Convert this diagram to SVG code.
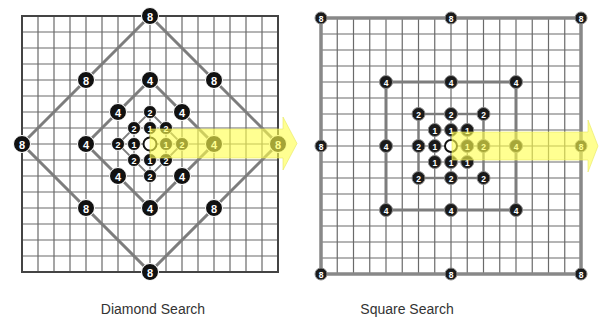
<svg xmlns="http://www.w3.org/2000/svg" width="599" height="320" viewBox="0 0 599 320">
<style>
.grid{stroke:#6a6a6a;stroke-width:1.2;fill:none}
.frame{stroke:#444;stroke-width:2;fill:none}
.conn{stroke:#7d7d7d;stroke-width:3;fill:none;stroke-linejoin:round}
.conn2{stroke:#7d7d7d;stroke-width:1.8;fill:none}
.big circle{fill:#111;stroke:#fff;stroke-width:1}
.sm circle{fill:#111;stroke:#fff;stroke-width:0.8}
.rn circle{fill:#1a1a1a;stroke:#888;stroke-width:1}
.n text{fill:#fff;font-family:"Liberation Sans",Arial,sans-serif;font-weight:bold;text-anchor:middle;dominant-baseline:central}
.big text{font-size:11px}
.sm text{font-size:9px}
.rn text{font-size:8.5px}
.ctr{fill:#fff;stroke:#111;stroke-width:2}
.arrow{fill:#ffff4d;fill-opacity:0.62;stroke:#e8e860;stroke-width:1;stroke-opacity:0.6}
.label{font-family:"Liberation Sans",Arial,sans-serif;font-size:14px;fill:#333;text-anchor:middle}
</style>
<rect width="599" height="320" fill="#fff"/>
<!-- Left grid -->
<g id="grid-left">
<path class="grid" d="M38 16V272M54 16V272M70 16V272M86 16V272M102 16V272M118 16V272M134 16V272M150 16V272M166 16V272M182 16V272M198 16V272M214 16V272M230 16V272M246 16V272M262 16V272M22 32H278M22 48H278M22 64H278M22 80H278M22 96H278M22 112H278M22 128H278M22 144H278M22 160H278M22 176H278M22 192H278M22 208H278M22 224H278M22 240H278M22 256H278"/>
<rect class="frame" x="22" y="16" width="256" height="256"/>
</g>
<!-- Right grid -->
<g id="grid-right">
<path class="grid" d="M337.25 18V274M353.5 18V274M369.75 18V274M386 18V274M402.25 18V274M418.5 18V274M434.75 18V274M451 18V274M467.25 18V274M483.5 18V274M499.75 18V274M516 18V274M532.25 18V274M548.5 18V274M564.75 18V274M321 34H581M321 50H581M321 66H581M321 82H581M321 98H581M321 114H581M321 130H581M321 146H581M321 162H581M321 178H581M321 194H581M321 210H581M321 226H581M321 242H581M321 258H581"/>
</g>
<g id="connectors">
<path class="conn" d="M150 16L278 144L150 272L22 144Z"/>
<path class="conn" d="M150 80L214 144L150 208L86 144Z"/>
<path class="conn2" d="M150 112L182 144L150 176L118 144Z"/>
<rect class="conn" x="321" y="18" width="260" height="256" style="stroke:#888;stroke-width:3.5"/>
<rect class="conn" x="386" y="82" width="130" height="128"/>
<rect class="conn2" x="418.5" y="114" width="65" height="64" style="stroke-width:2.4"/>
</g>
<!-- Left nodes -->
<g id="left-nodes">
<g id="L8-t" class="n big"><circle cx="150" cy="16" r="8.5"/><text x="150" y="16.5">8</text></g>
<g id="L8-r" class="n big"><circle cx="278" cy="144" r="8.5"/><text x="278" y="144.5">8</text></g>
<g id="L8-b" class="n big"><circle cx="150" cy="272" r="8.5"/><text x="150" y="272.5">8</text></g>
<g id="L8-l" class="n big"><circle cx="22" cy="144" r="8.5"/><text x="22" y="144.5">8</text></g>
<g id="L8-tl" class="n big"><circle cx="86" cy="80" r="8.5"/><text x="86" y="80.5">8</text></g>
<g id="L8-tr" class="n big"><circle cx="214" cy="80" r="8.5"/><text x="214" y="80.5">8</text></g>
<g id="L8-bl" class="n big"><circle cx="86" cy="208" r="8.5"/><text x="86" y="208.5">8</text></g>
<g id="L8-br" class="n big"><circle cx="214" cy="208" r="8.5"/><text x="214" y="208.5">8</text></g>
<g id="L4-t" class="n big"><circle cx="150" cy="80" r="8.5"/><text x="150" y="80.5">4</text></g>
<g id="L4-r" class="n big"><circle cx="214" cy="144" r="8.5"/><text x="214" y="144.5">4</text></g>
<g id="L4-b" class="n big"><circle cx="150" cy="208" r="8.5"/><text x="150" y="208.5">4</text></g>
<g id="L4-l" class="n big"><circle cx="86" cy="144" r="8.5"/><text x="86" y="144.5">4</text></g>
<g id="L4-tl" class="n big"><circle cx="118" cy="112" r="8.5"/><text x="118" y="112.5">4</text></g>
<g id="L4-tr" class="n big"><circle cx="182" cy="112" r="8.5"/><text x="182" y="112.5">4</text></g>
<g id="L4-bl" class="n big"><circle cx="118" cy="176" r="8.5"/><text x="118" y="176.5">4</text></g>
<g id="L4-br" class="n big"><circle cx="182" cy="176" r="8.5"/><text x="182" y="176.5">4</text></g>
<g id="L2-t" class="n sm"><circle cx="150" cy="112" r="6.5"/><text x="150" y="112.5">2</text></g>
<g id="L2-r" class="n sm"><circle cx="182" cy="144" r="6.5"/><text x="182" y="144.5">2</text></g>
<g id="L2-b" class="n sm"><circle cx="150" cy="176" r="6.5"/><text x="150" y="176.5">2</text></g>
<g id="L2-l" class="n sm"><circle cx="118" cy="144" r="6.5"/><text x="118" y="144.5">2</text></g>
<g id="L2-tl" class="n sm"><circle cx="134" cy="128" r="6.5"/><text x="134" y="128.5">2</text></g>
<g id="L2-tr" class="n sm"><circle cx="166" cy="128" r="6.5"/><text x="166" y="128.5">2</text></g>
<g id="L2-bl" class="n sm"><circle cx="134" cy="160" r="6.5"/><text x="134" y="160.5">2</text></g>
<g id="L2-br" class="n sm"><circle cx="166" cy="160" r="6.5"/><text x="166" y="160.5">2</text></g>
<g id="L1-t" class="n sm"><circle cx="150" cy="128" r="6.5"/><text x="150" y="128.5">1</text></g>
<g id="L1-r" class="n sm"><circle cx="166" cy="144" r="6.5"/><text x="166" y="144.5">1</text></g>
<g id="L1-b" class="n sm"><circle cx="150" cy="160" r="6.5"/><text x="150" y="160.5">1</text></g>
<g id="L1-l" class="n sm"><circle cx="134" cy="144" r="6.5"/><text x="134" y="144.5">1</text></g>
<g id="L0"><circle class="ctr" cx="150" cy="144" r="6.5"/></g>
</g>
<!-- Right nodes -->
<g id="right-nodes">
<g id="R8-tl" class="n rn"><circle cx="321" cy="18" r="6"/><text x="321" y="18.5">8</text></g>
<g id="R8-t" class="n rn"><circle cx="451" cy="18" r="6"/><text x="451" y="18.5">8</text></g>
<g id="R8-tr" class="n rn"><circle cx="581" cy="18" r="6"/><text x="581" y="18.5">8</text></g>
<g id="R8-l" class="n rn"><circle cx="321" cy="146" r="6"/><text x="321" y="146.5">8</text></g>
<g id="R8-r" class="n rn"><circle cx="581" cy="146" r="6"/><text x="581" y="146.5">8</text></g>
<g id="R8-bl" class="n rn"><circle cx="321" cy="274" r="6"/><text x="321" y="274.5">8</text></g>
<g id="R8-b" class="n rn"><circle cx="451" cy="274" r="6"/><text x="451" y="274.5">8</text></g>
<g id="R8-br" class="n rn"><circle cx="581" cy="274" r="6"/><text x="581" y="274.5">8</text></g>
<g id="R4-tl" class="n rn"><circle cx="386" cy="82" r="6.5"/><text x="386" y="82.5">4</text></g>
<g id="R4-t" class="n rn"><circle cx="451" cy="82" r="6.5"/><text x="451" y="82.5">4</text></g>
<g id="R4-tr" class="n rn"><circle cx="516" cy="82" r="6.5"/><text x="516" y="82.5">4</text></g>
<g id="R4-l" class="n rn"><circle cx="386" cy="146" r="6.5"/><text x="386" y="146.5">4</text></g>
<g id="R4-r" class="n rn"><circle cx="516" cy="146" r="6.5"/><text x="516" y="146.5">4</text></g>
<g id="R4-bl" class="n rn"><circle cx="386" cy="210" r="6.5"/><text x="386" y="210.5">4</text></g>
<g id="R4-b" class="n rn"><circle cx="451" cy="210" r="6.5"/><text x="451" y="210.5">4</text></g>
<g id="R4-br" class="n rn"><circle cx="516" cy="210" r="6.5"/><text x="516" y="210.5">4</text></g>
<g id="R2-tl" class="n rn"><circle cx="418.5" cy="114" r="6.5"/><text x="418.5" y="114.5">2</text></g>
<g id="R2-t" class="n rn"><circle cx="451" cy="114" r="6.5"/><text x="451" y="114.5">2</text></g>
<g id="R2-tr" class="n rn"><circle cx="483.5" cy="114" r="6.5"/><text x="483.5" y="114.5">2</text></g>
<g id="R2-l" class="n rn"><circle cx="418.5" cy="146" r="6.5"/><text x="418.5" y="146.5">2</text></g>
<g id="R2-r" class="n rn"><circle cx="483.5" cy="146" r="6.5"/><text x="483.5" y="146.5">2</text></g>
<g id="R2-bl" class="n rn"><circle cx="418.5" cy="178" r="6.5"/><text x="418.5" y="178.5">2</text></g>
<g id="R2-b" class="n rn"><circle cx="451" cy="178" r="6.5"/><text x="451" y="178.5">2</text></g>
<g id="R2-br" class="n rn"><circle cx="483.5" cy="178" r="6.5"/><text x="483.5" y="178.5">2</text></g>
<g id="R1-tl" class="n rn"><circle cx="434.75" cy="130" r="6.5"/><text x="434.75" y="130.5">1</text></g>
<g id="R1-t" class="n rn"><circle cx="451" cy="130" r="6.5"/><text x="451" y="130.5">1</text></g>
<g id="R1-tr" class="n rn"><circle cx="467.25" cy="130" r="6.5"/><text x="467.25" y="130.5">1</text></g>
<g id="R1-l" class="n rn"><circle cx="434.75" cy="146" r="6.5"/><text x="434.75" y="146.5">1</text></g>
<g id="R1-r" class="n rn"><circle cx="467.25" cy="146" r="6.5"/><text x="467.25" y="146.5">1</text></g>
<g id="R1-bl" class="n rn"><circle cx="434.75" cy="162" r="6.5"/><text x="434.75" y="162.5">1</text></g>
<g id="R1-b" class="n rn"><circle cx="451" cy="162" r="6.5"/><text x="451" y="162.5">1</text></g>
<g id="R1-br" class="n rn"><circle cx="467.25" cy="162" r="6.5"/><text x="467.25" y="162.5">1</text></g>
<g id="R0"><circle class="ctr" cx="451" cy="146" r="6"/></g>
</g>
<!-- Yellow arrows -->
<polygon id="arrow-left" class="arrow" points="150,129 283,129 283,117 297,143.5 283,170 283,158 150,158"/>
<polygon id="arrow-right" class="arrow" points="452,132 588,132 588,120 598,146 588,172 588,160 452,160"/>
<text id="label-left" class="label" x="153" y="314">Diamond Search</text>
<text id="label-right" class="label" x="407" y="314">Square Search</text>
</svg>
